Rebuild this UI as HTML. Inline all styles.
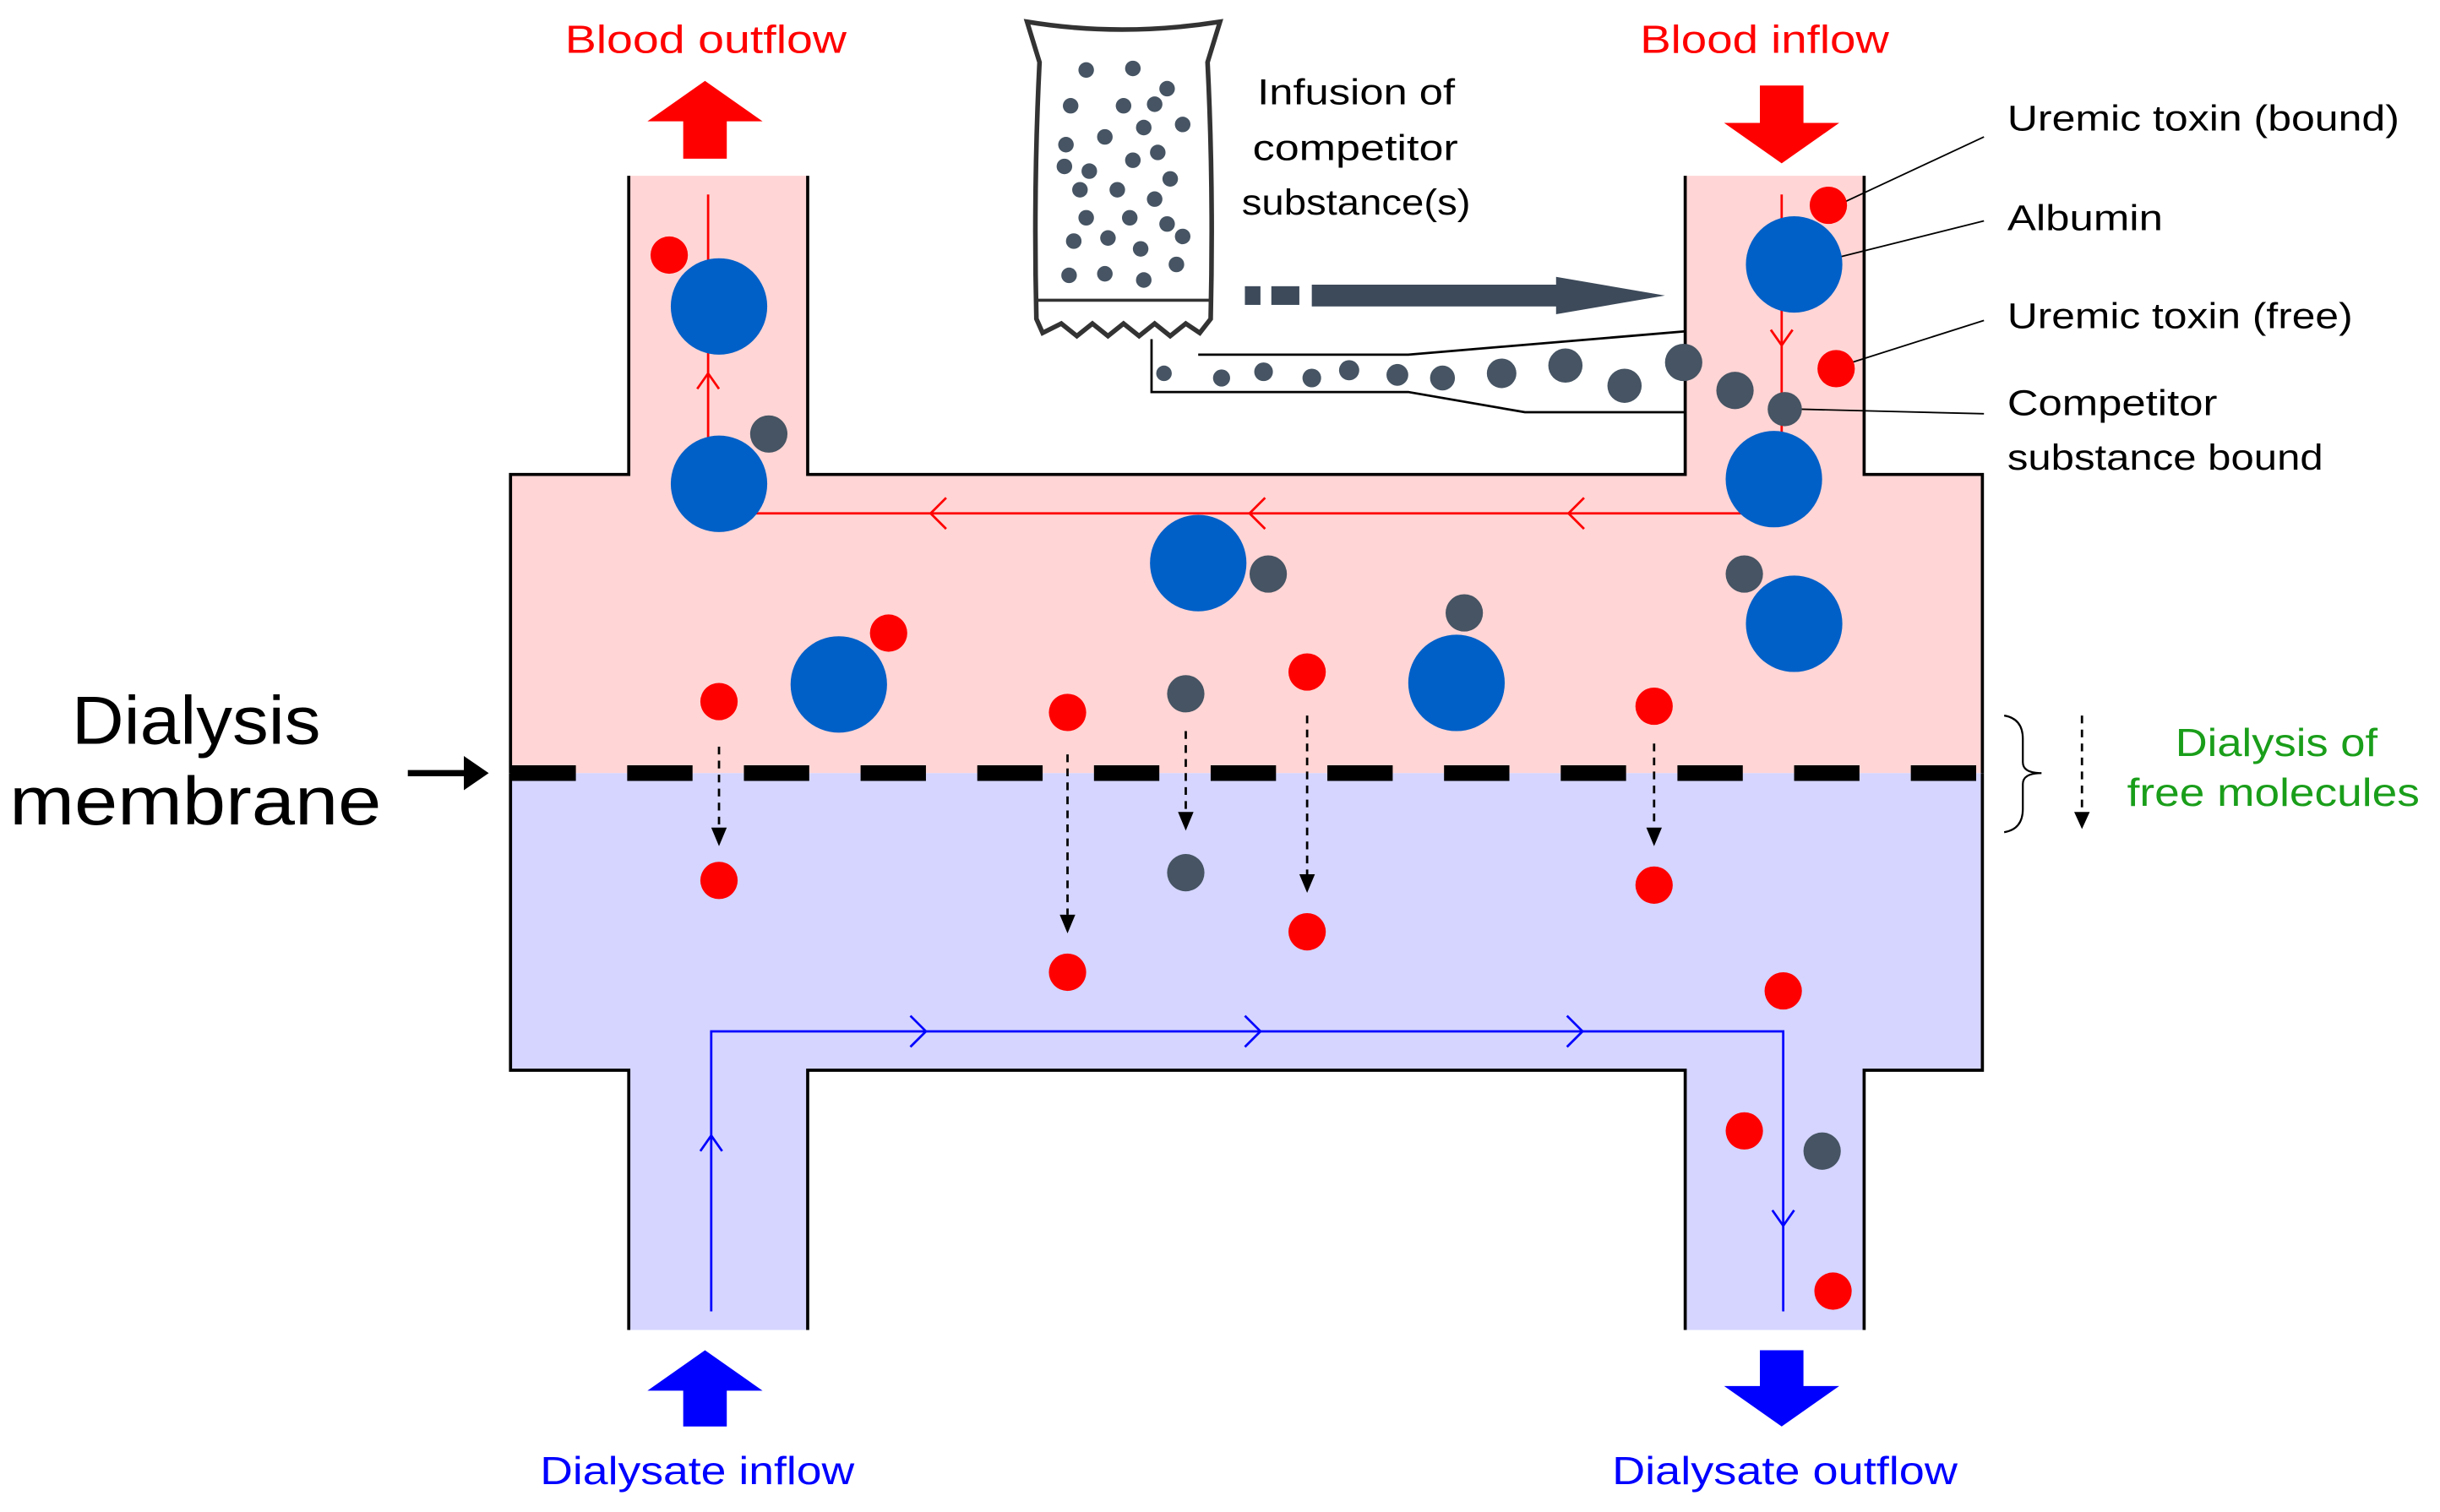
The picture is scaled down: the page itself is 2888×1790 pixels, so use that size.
<!DOCTYPE html>
<html><head><meta charset="utf-8"><style>
html,body{margin:0;padding:0;background:#fff;width:2888px;height:1790px;overflow:hidden}
svg{display:block}
text{font-family:"Liberation Sans","DejaVu Sans",sans-serif}
</style></head><body>
<svg width="2888" height="1790" viewBox="0 0 1568 972" xmlns="http://www.w3.org/2000/svg">
<path d="M404,113 V305 H328 V497 H1274 V305 H1198 V113 H1083 V305 H519 V113 Z" fill="#ffd5d5"/>
<path d="M404,113 V305 H328 V497 M1274,497 V305 H1198 V113 M1083,113 V305 H519 V113" fill="none" stroke="#000" stroke-width="2"/>
<path d="M328,497 H1274 V688 H1198 V855 H1083 V688 H519 V855 H404 V688 H328 Z" fill="#d5d5ff"/>
<path d="M328,497 V688 H404 V855 M519,855 V688 H1083 V855 M1198,855 V688 H1274 V497" fill="none" stroke="#000" stroke-width="2"/>
<line x1="328" y1="497" x2="1272" y2="497" stroke="#000" stroke-width="10" stroke-dasharray="42,33"/>
<path d="M1145,125 V330 H455 V125" fill="none" stroke="#f00" stroke-width="1.5"/>
<g fill="none" stroke="#f00" stroke-width="1.5">
<path d="M1138,212 L1145,222 L1152,212"/><path d="M1018,320 L1008,330 L1018,340"/><path d="M813,320 L803,330 L813,340"/><path d="M608,320 L598,330 L608,340"/><path d="M448,250 L455,240 L462,250"/>
</g>
<path d="M457,843 V663 H1146 V843" fill="none" stroke="#00f" stroke-width="1.5"/>
<g fill="none" stroke="#00f" stroke-width="1.5">
<path d="M450,740 L457,730 L464,740"/><path d="M585,653 L595,663 L585,673"/><path d="M800,653 L810,663 L800,673"/><path d="M1007,653 L1017,663 L1007,673"/><path d="M1139,778 L1146,788 L1153,778"/>
</g>
<path d="M453,52 L490,78 L467,78 L467,102 L439,102 L439,78 L416,78 Z" fill="#f00"/>
<path d="M1145,105 L1182,79 L1159,79 L1159,55 L1131,55 L1131,79 L1108,79 Z" fill="#f00"/>
<path d="M453,868 L490,894 L467,894 L467,917 L439,917 L439,894 L416,894 Z" fill="#00f"/>
<path d="M1145,917 L1182,891 L1159,891 L1159,868 L1131,868 L1131,891 L1108,891 Z" fill="#00f"/>
<g lengthAdjust="spacingAndGlyphs">
<text x="363" y="34" fill="#f00" font-size="25" textLength="181" lengthAdjust="spacingAndGlyphs">Blood outflow</text>
<text x="1054" y="34" fill="#f00" font-size="25" textLength="160" lengthAdjust="spacingAndGlyphs">Blood inflow</text>
<text x="347" y="954" fill="#00f" font-size="25" textLength="202" lengthAdjust="spacingAndGlyphs">Dialysate inflow</text>
<text x="1036" y="954" fill="#00f" font-size="25" textLength="222" lengthAdjust="spacingAndGlyphs">Dialysate outflow</text>
<text x="46" y="478" font-size="44" textLength="160" lengthAdjust="spacingAndGlyphs">Dialysis</text>
<text x="6" y="530" font-size="44" textLength="239" lengthAdjust="spacingAndGlyphs">membrane</text>
<text x="808" y="67" font-size="23" textLength="127" lengthAdjust="spacingAndGlyphs">Infusion of</text>
<text x="805" y="103" font-size="23" textLength="132" lengthAdjust="spacingAndGlyphs">competitor</text>
<text x="798" y="138" font-size="23" textLength="147" lengthAdjust="spacingAndGlyphs">substance(s)</text>
<text x="1290" y="84" font-size="23" textLength="252" lengthAdjust="spacingAndGlyphs">Uremic toxin (bound)</text>
<text x="1290" y="148" font-size="23" textLength="100" lengthAdjust="spacingAndGlyphs">Albumin</text>
<text x="1290" y="211" font-size="23" textLength="222" lengthAdjust="spacingAndGlyphs">Uremic toxin (free)</text>
<text x="1290" y="267" font-size="23" textLength="135" lengthAdjust="spacingAndGlyphs">Competitor</text>
<text x="1290" y="302" font-size="23" textLength="203" lengthAdjust="spacingAndGlyphs">substance bound</text>
<text x="1398" y="486" fill="#1a9e1a" font-size="25" textLength="130" lengthAdjust="spacingAndGlyphs">Dialysis of</text>
<text x="1367" y="518" fill="#1a9e1a" font-size="25" textLength="188" lengthAdjust="spacingAndGlyphs">free molecules</text>
</g>
<line x1="262" y1="497" x2="300" y2="497" stroke="#000" stroke-width="4"/>
<path d="M298,486 L314,497 L298,508 Z" fill="#000"/>
<path d="M1288,460 Q1300,462 1300,475 L1300,490 Q1300,497 1312,497 Q1300,497 1300,504 L1300,520 Q1300,533 1288,535" fill="none" stroke="#000" stroke-width="1.2"/>
<line x1="1338" y1="460" x2="1338" y2="522" stroke="#000" stroke-width="1.5" stroke-dasharray="5,4"/>
<path d="M1333,522 L1338,533 L1343,522 Z" fill="#000"/>
<g stroke="#000" stroke-width="1">
<line x1="1185" y1="130" x2="1275" y2="88"/><line x1="1183" y1="165" x2="1275" y2="142"/>
<line x1="1190" y1="233" x2="1275" y2="206"/><line x1="1155" y1="263" x2="1275" y2="266"/>
</g>
<path d="M660,14 Q720,24 784,14 L776,40 Q780,120 778,205 L771,214 L762,208 L752,216 L742,208 L732,216 L722,208 L712,216 L702,208 L692,216 L682,208 L670,214 L666,205 Q664,120 668,40 Z" fill="#fff" stroke="#333" stroke-width="3"/>
<line x1="666" y1="193" x2="778" y2="193" stroke="#333" stroke-width="2"/>
<g fill="#465463">
<circle cx="698" cy="45" r="5"/><circle cx="728" cy="44" r="5"/><circle cx="750" cy="57" r="5"/><circle cx="688" cy="68" r="5"/><circle cx="722" cy="68" r="5"/><circle cx="742" cy="67" r="5"/><circle cx="710" cy="88" r="5"/><circle cx="685" cy="93" r="5"/><circle cx="735" cy="82" r="5"/><circle cx="760" cy="80" r="5"/><circle cx="700" cy="110" r="5"/><circle cx="728" cy="103" r="5"/><circle cx="744" cy="98" r="5"/><circle cx="684" cy="107" r="5"/><circle cx="694" cy="122" r="5"/><circle cx="718" cy="122" r="5"/><circle cx="752" cy="115" r="5"/><circle cx="742" cy="128" r="5"/><circle cx="698" cy="140" r="5"/><circle cx="726" cy="140" r="5"/><circle cx="690" cy="155" r="5"/><circle cx="712" cy="153" r="5"/><circle cx="733" cy="160" r="5"/><circle cx="760" cy="152" r="5"/><circle cx="750" cy="144" r="5"/><circle cx="687" cy="177" r="5"/><circle cx="710" cy="176" r="5"/><circle cx="735" cy="180" r="5"/><circle cx="756" cy="170" r="5"/>
</g>
<rect x="800" y="184" width="10" height="12" fill="#3d4a5a"/><rect x="817" y="184" width="18" height="12" fill="#3d4a5a"/>
<rect x="843" y="183" width="160" height="14" fill="#3d4a5a"/><path d="M1000,178 L1070,190 L1000,202 Z" fill="#3d4a5a"/>
<path d="M740,218 V252 H905 L980,265 H1083 M1083,213 L905,228 H770" fill="none" stroke="#000" stroke-width="1.5"/>
<g fill="#465463">
<circle cx="748" cy="240" r="5"/><circle cx="785" cy="243" r="5.5"/><circle cx="812" cy="239" r="6"/><circle cx="843" cy="243" r="6"/><circle cx="867" cy="238" r="6.5"/><circle cx="898" cy="241" r="7"/><circle cx="927" cy="243" r="8"/><circle cx="965" cy="240" r="9.5"/><circle cx="1006" cy="235" r="11"/><circle cx="1044" cy="248" r="11"/><circle cx="1082" cy="233" r="12"/><circle cx="1115" cy="251" r="12"/><circle cx="1147" cy="263" r="11"/>
</g>
<g fill="#0060c8">
<circle cx="462" cy="197" r="31"/><circle cx="462" cy="311" r="31"/><circle cx="1153" cy="170" r="31"/><circle cx="1140" cy="308" r="31"/><circle cx="770" cy="362" r="31"/><circle cx="539" cy="440" r="31"/><circle cx="936" cy="439" r="31"/><circle cx="1153" cy="401" r="31"/>
</g>
<g fill="#465463">
<circle cx="494" cy="279" r="12"/><circle cx="815" cy="369" r="12"/><circle cx="941" cy="394" r="12"/><circle cx="1121" cy="369" r="12"/><circle cx="762" cy="446" r="12"/><circle cx="762" cy="561" r="12"/><circle cx="1171" cy="740" r="12"/>
</g>
<g fill="#f00">
<circle cx="430" cy="164" r="12"/><circle cx="1175" cy="132" r="12"/><circle cx="1180" cy="237" r="12"/><circle cx="571" cy="407" r="12"/><circle cx="462" cy="451" r="12"/><circle cx="686" cy="458" r="12"/><circle cx="840" cy="432" r="12"/><circle cx="1063" cy="454" r="12"/><circle cx="462" cy="566" r="12"/><circle cx="686" cy="625" r="12"/><circle cx="840" cy="599" r="12"/><circle cx="1063" cy="569" r="12"/><circle cx="1146" cy="637" r="12"/><circle cx="1121" cy="727" r="12"/><circle cx="1178" cy="830" r="12"/>
</g>
<g stroke="#000" stroke-width="1.5" stroke-dasharray="5,4">
<line x1="462" y1="480" x2="462" y2="532"/><line x1="686" y1="485" x2="686" y2="588"/><line x1="762" y1="470" x2="762" y2="522"/><line x1="840" y1="460" x2="840" y2="562"/><line x1="1063" y1="478" x2="1063" y2="532"/>
</g>
<g fill="#000">
<path d="M457,532 L462,544 L467,532 Z"/><path d="M681,588 L686,600 L691,588 Z"/><path d="M757,522 L762,534 L767,522 Z"/><path d="M835,562 L840,574 L845,562 Z"/><path d="M1058,532 L1063,544 L1068,532 Z"/>
</g>
</svg>
</body></html>
